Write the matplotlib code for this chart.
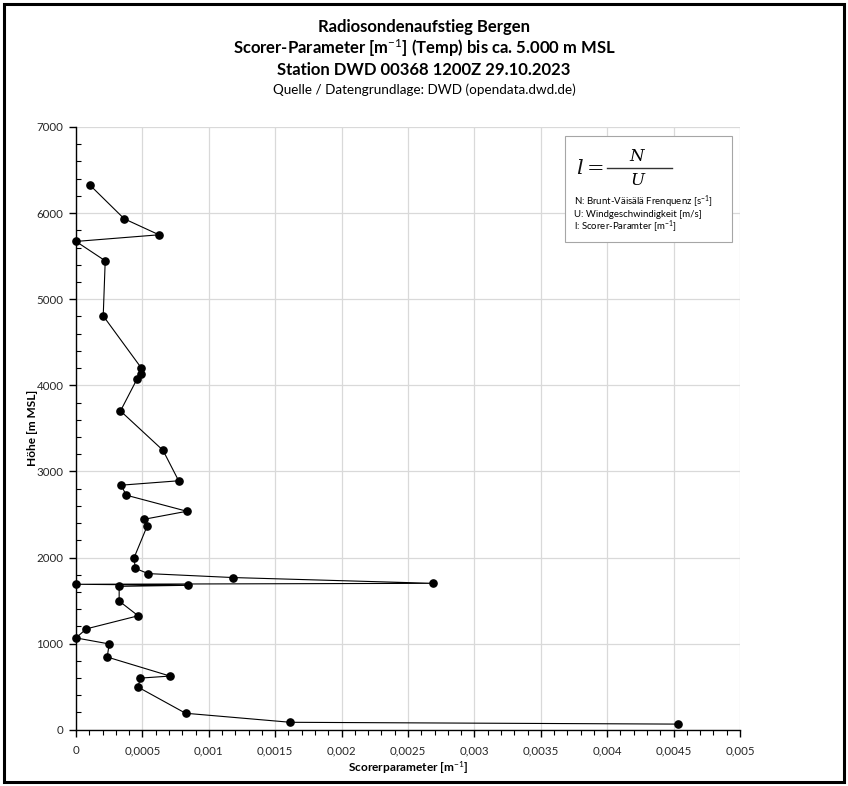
import matplotlib
matplotlib.use("Agg")
import matplotlib.pyplot as plt
from matplotlib.ticker import MultipleLocator, FixedLocator
from matplotlib.patches import Rectangle

# ---- data ----
heights = [65, 86, 191, 494, 599, 623, 844, 996, 1066, 1171, 1323, 1494, 1665,
           1677, 1689, 1700, 1767, 1813, 1875, 2000, 2362, 2444, 2537, 2724,
           2840, 2891, 3245, 3702, 4074, 4132, 4205, 4806, 5446, 5671, 5748,
           5934, 6329]
scorer = [0.00453, 0.001615, 0.000825, 0.000468, 0.000483, 0.000708, 0.000235,
          0.00025, 0.0, 0.0000775, 0.000468, 0.000325, 0.000325, 0.000843, 0.0,
          0.00269, 0.001185, 0.000543, 0.000445, 0.000438, 0.000535, 0.000513,
          0.000835, 0.000378, 0.00034, 0.000773, 0.000655, 0.000335, 0.00046,
          0.00049, 0.00049, 0.000205, 0.00022, 0.0, 0.000625, 0.000363, 0.0001025]
x_ticks = [0, 0.0005, 0.001, 0.0015, 0.002, 0.0025, 0.003, 0.0035, 0.004, 0.0045, 0.005]
x_ticklabels = ["0", "0,0005", "0,001", "0,0015", "0,002", "0,0025", "0,003",
                "0,0035", "0,004", "0,0045", "0,005"]
y_ticks = [0, 1000, 2000, 3000, 4000, 5000, 6000, 7000]
y_ticklabels = [str(v) for v in y_ticks]

title_lines = ["Radiosondenaufstieg Bergen",
               "Scorer-Parameter [m$^{-1}$] (Temp) bis ca. 5.000 m MSL",
               "Station DWD 00368 1200Z 29.10.2023"]
source = "Quelle / Datengrundlage: DWD (opendata.dwd.de)"
legend_lines = ["N: Brunt-Väisälä Frenquenz [s$^{-1}$]",
                "U: Windgeschwindigkeit [m/s]",
                "l: Scorer-Paramter [m$^{-1}$]"]

plt.rcParams['font.family'] = ['Lato', 'DejaVu Sans']
plt.rcParams['mathtext.fontset'] = 'custom'
plt.rcParams['mathtext.rm'] = 'Lato'
plt.rcParams['mathtext.it'] = 'Lato:italic'
plt.rcParams['mathtext.bf'] = 'Lato:bold'

W, H = 848, 786
fig = plt.figure(figsize=(W / 100, H / 100), dpi=100)
fig.patch.set_facecolor('white')

# outer border
fig.add_artist(Rectangle((3.5 / W, 1 - 782 / H), (844 - 3.5) / W, (782 - 3.5) / H,
                         transform=fig.transFigure, fill=False, edgecolor='black',
                         linewidth=2.2))

AX_L, AX_R, AX_T, AX_B = 76, 740, 127, 729.7
ax = fig.add_axes([AX_L / W, 1 - AX_B / H, (AX_R - AX_L) / W, (AX_B - AX_T) / H])
ax.set_xlim(0, 0.005)
ax.set_ylim(0, 7000)

ax.plot(scorer, heights, color='black', linewidth=0.8, marker='o',
        markersize=5.2, markerfacecolor='black', markeredgecolor='black',
        clip_on=False, zorder=5)

ax.xaxis.set_major_locator(FixedLocator(x_ticks))
ax.set_xticklabels(x_ticklabels)
ax.xaxis.set_minor_locator(MultipleLocator(0.0001))
ax.yaxis.set_major_locator(FixedLocator(y_ticks))
ax.set_yticklabels(y_ticklabels)
ax.yaxis.set_minor_locator(MultipleLocator(200))

ax.grid(True, which='major', color='#d9d9d9', linewidth=0.9)
ax.set_axisbelow(True)
for s in ['top', 'right']:
    ax.spines[s].set_visible(False)
for s in ['left', 'bottom']:
    ax.spines[s].set_color('black')
    ax.spines[s].set_linewidth(1.0)

ax.tick_params(axis='both', which='major', length=5, width=1, color='black',
               labelsize=8.3, labelcolor='#262626', direction='out')
ax.tick_params(axis='x', which='minor', length=3.5, width=0.8, direction='out')
ax.tick_params(axis='y', which='minor', length=3.5, width=0.8, direction='in')
ax.tick_params(axis='x', which='major', pad=6)
ax.tick_params(axis='y', which='major', pad=4)

ax.set_xlabel("Scorerparameter [m$^{-1}$]", fontsize=8.6, fontweight='bold')
ax.set_ylabel("Höhe [m MSL]", fontsize=8.6, fontweight='bold')
ax.xaxis.set_label_coords(0.5, (AX_B - 759) / (AX_B - AX_T))
ax.yaxis.set_label_coords((38 - AX_L) / (AX_R - AX_L), 0.5)

# titles
ys = [27, 48, 70]
for t, y in zip(title_lines, ys):
    fig.text(424 / W, 1 - y / H, t, ha='center', va='center', fontsize=12.0,
             fontweight='bold', color='black')
fig.text(424 / W, 1 - 90 / H, source, ha='center', va='center', fontsize=9.7,
         color='black')

# formula box
box_x0, box_y0, box_x1, box_y1 = 565, 136, 732, 242
fig.add_artist(Rectangle((box_x0 / W, 1 - box_y1 / H), (box_x1 - box_x0) / W,
                         (box_y1 - box_y0) / H, transform=fig.transFigure,
                         facecolor='white', edgecolor='#a6a6a6', linewidth=0.8,
                         zorder=10))
fig.text(576 / W, 1 - 168 / H, r"$l = $", ha='left', va='center', fontsize=15,
         math_fontfamily='dejavuserif', zorder=11, color='#111111')
fig.add_artist(plt.Line2D([(607) / W, (672) / W], [1 - 168 / H, 1 - 168 / H],
                          transform=fig.transFigure, color='#333333',
                          linewidth=1.0, zorder=11))
fig.text(638 / W, 1 - 156 / H, r"$N$", ha='center', va='center', fontsize=12,
         math_fontfamily='dejavuserif', zorder=11)
fig.text(638 / W, 1 - 180 / H, r"$U$", ha='center', va='center', fontsize=12,
         math_fontfamily='dejavuserif', zorder=11)
for i, t in enumerate(legend_lines):
    fig.text(574 / W, 1 - (202 + i * 12.5) / H, t, ha='left', va='center',
             fontsize=6.9, zorder=11)

fig.savefig("out.png", dpi=100)
